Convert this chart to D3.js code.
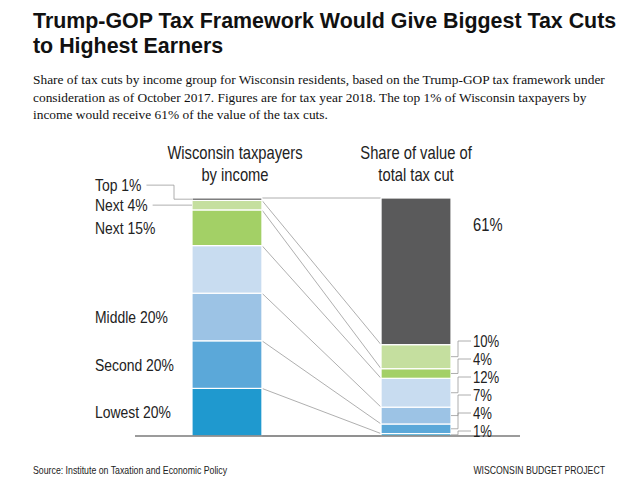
<!DOCTYPE html>
<html>
<head>
<meta charset="utf-8">
<script src="https://cdn.jsdelivr.net/npm/d3@7"></script>
<style>
  body { margin: 0; background: #fff; }
  svg { display: block; }
  .narrow { font-family: "Liberation Sans", Arial, sans-serif; fill: #222; }
</style>
</head>
<body>
<script>
// data, bottom of the stack first
var groups = ["Lowest 20%", "Second 20%", "Middle 20%", "Fourth 20%", "Next 15%", "Next 4%", "Top 1%"];
var leftLabels = ["Lowest 20%", "Second 20%", "Middle 20%", "", "Next 15%", "Next 4%", "Top 1%"];
var populationShare = [20, 20, 20, 20, 15, 4, 1];
var taxCutShare = [1, 4, 7, 12, 4, 10, 61];
var columns = ["Wisconsin taxpayers|by income", "Share of value of|total tax cut"];

var title = ["Trump-GOP Tax Framework Would Give Biggest Tax Cuts", "to Highest Earners"];
var subtitle = [
  "Share of tax cuts by income group for Wisconsin residents, based on the Trump-GOP tax framework under",
  "consideration as of October 2017. Figures are for tax year 2018. The top 1% of Wisconsin taxpayers by",
  "income would receive 61% of the value of the tax cuts."
];
var source = "Source: Institute on Taxation and Economic Policy";
var credit = "WISCONSIN BUDGET PROJECT";

var width = 640, height = 482;
var base = 436, top_ = 198;
var squeeze = 0.82; // no narrow face installed, so squash the sans horizontally

var svg = d3.select("body")
  .append("svg")
    .attr("width", width)
    .attr("height", height);

// condensed text helper
function narrowText(parent, x, y, size, str, anchor) {
  return parent.append("text")
    .attr("class", "narrow")
    .attr("transform", "translate(" + x + "," + y + ") scale(" + squeeze + ",1)")
    .attr("dy", "0.35em")
    .attr("text-anchor", anchor || "start")
    .style("font-size", size + "px")
    .text(str);
}

// title + subtitle
svg.append("g").selectAll("text")
  .data(title)
  .enter().append("text")
    .attr("x", 33)
    .attr("y", function(d, i) { return 28 + i * 25; })
    .style("font-family", "'Liberation Sans', Arial, sans-serif")
    .style("font-weight", "bold")
    .style("font-size", "21.4px")
    .style("fill", "#111")
    .text(function(d) { return d; });

svg.append("g").selectAll("text")
  .data(subtitle)
  .enter().append("text")
    .attr("x", 33)
    .attr("y", function(d, i) { return 84 + i * 17.5; })
    .style("font-family", "'Liberation Serif', 'Times New Roman', serif")
    .style("font-size", "13.4px")
    .style("fill", "#111")
    .text(function(d) { return d; });

// scales
var xScale = d3.scaleBand()
  .domain(columns)
  .range([192, 451])
  .paddingInner(0.63);

var yLeft = d3.scaleLinear()
  .domain([0, d3.sum(populationShare)])
  .range([base, top_]);

var yRight = d3.scaleLinear()
  .domain([0, d3.sum(taxCutShare)])
  .range([base, top_]);

var color = d3.scaleOrdinal()
  .domain(groups)
  .range(["#1f99cf", "#5ba8d9", "#9cc3e5", "#c8dcf0", "#a3d066", "#c5df9f", "#5a5a5b"]);

function stackOf(values) {
  var ends = Array.from(d3.cumsum(values));
  return values.map(function(v, i) {
    return { group: groups[i], value: v, y0: ends[i] - v, y1: ends[i], i: i };
  });
}
var leftStack = stackOf(populationShare);
var rightStack = stackOf(taxCutShare);

var xL = xScale(columns[0]), xR = xScale(columns[1]), bw = xScale.bandwidth();

// connector lines between the bars
svg.append("g").selectAll("line")
  .data(leftStack)
  .enter().append("line")
    .attr("x1", xL + bw)
    .attr("y1", function(d) { return yLeft(d.y0); })
    .attr("x2", xR)
    .attr("y2", function(d, i) { return yRight(rightStack[i].y0); })
    .style("stroke", "#9a9a9a")
    .style("stroke-width", 0.8);

svg.append("line")
  .attr("x1", xL + bw).attr("x2", xR)
  .attr("y1", yLeft(d3.sum(populationShare)))
  .attr("y2", yRight(d3.sum(taxCutShare)))
  .style("stroke", "#9a9a9a")
  .style("stroke-width", 0.8);

// bars
function drawBar(stack, x, y) {
  svg.append("g").selectAll("rect")
    .data(stack)
    .enter().append("rect")
      .attr("x", x)
      .attr("width", bw)
      .attr("y", function(d) { return y(d.y1); })
      .attr("height", function(d) { return y(d.y0) - y(d.y1); })
      .style("fill", function(d) { return color(d.group); })
      .style("stroke", "#fff")
      .style("stroke-width", 1.2);
}
drawBar(leftStack, xL, yLeft);
drawBar(rightStack, xR, yRight);

// baseline
svg.append("line")
  .attr("x1", 135).attr("x2", 520)
  .attr("y1", base).attr("y2", base)
  .style("stroke", "#7a7a7a")
  .style("stroke-width", 1.5);

// column headers
columns.forEach(function(c, ci) {
  var cx = xScale(c) + bw / 2 + (ci === 0 ? 8 : 0);
  c.split("|").forEach(function(line, i) {
    narrowText(svg, cx, 153 + i * 22, 18, line, "middle");
  });
});

// left labels: spread upward from the bottom so small groups don't collide
var leftPos = [];
leftStack.forEach(function(d, i) {
  var mid = (yLeft(d.y0) + yLeft(d.y1)) / 2;
  var prev = leftPos.length ? leftPos[leftPos.length - 1] : Infinity;
  var y = (leftLabels[i] && prev !== Infinity) ? Math.min(mid, prev - 20) : mid;
  if (leftLabels[i]) leftPos.push(y);
  d.labelY = y;
  d.mid = mid;
});

var leftG = svg.append("g");
leftStack.filter(function(d) { return leftLabels[d.i]; }).forEach(function(d) {
  var t = narrowText(leftG, 95, d.labelY, 17, leftLabels[d.i]);
  if (yLeft(d.y0) - yLeft(d.y1) < 15) {
    var end = 95 + t.node().getComputedTextLength() * squeeze;
    leftG.append("path")
      .attr("d", "M" + (end + 5) + "," + d.labelY + "H" + (xL - 18) + "V" + d.mid + "H" + xL)
      .style("fill", "none")
      .style("stroke", "#9a9a9a")
      .style("stroke-width", 0.8);
  }
});

// right labels with elbow leaders
var rightG = svg.append("g");
var prevY = base - 5;
rightStack.forEach(function(d, i) {
  var y0 = yRight(d.y0), y1 = yRight(d.y1);
  var mid = (y0 + y1) / 2;
  var last = i === rightStack.length - 1;
  var ly;
  if (last) {
    ly = y1 + 27;
  } else {
    ly = i === 0 ? prevY : Math.min(mid, prevY - 18);
    prevY = ly;
    rightG.append("path")
      .attr("d", "M" + (xR + bw) + "," + mid + "H" + (xR + bw + 7) + "V" + ly + "H" + (xR + bw + 20))
      .style("fill", "none")
      .style("stroke", "#9a9a9a")
      .style("stroke-width", 0.8);
  }
  narrowText(rightG, xR + bw + 22, ly, last ? 18 : 16, d.value + "%");
});

// footer
narrowText(svg, 33, 470, 10.7, source);
narrowText(svg, 605, 470, 10.6, credit, "end");
</script>
</body>
</html>
